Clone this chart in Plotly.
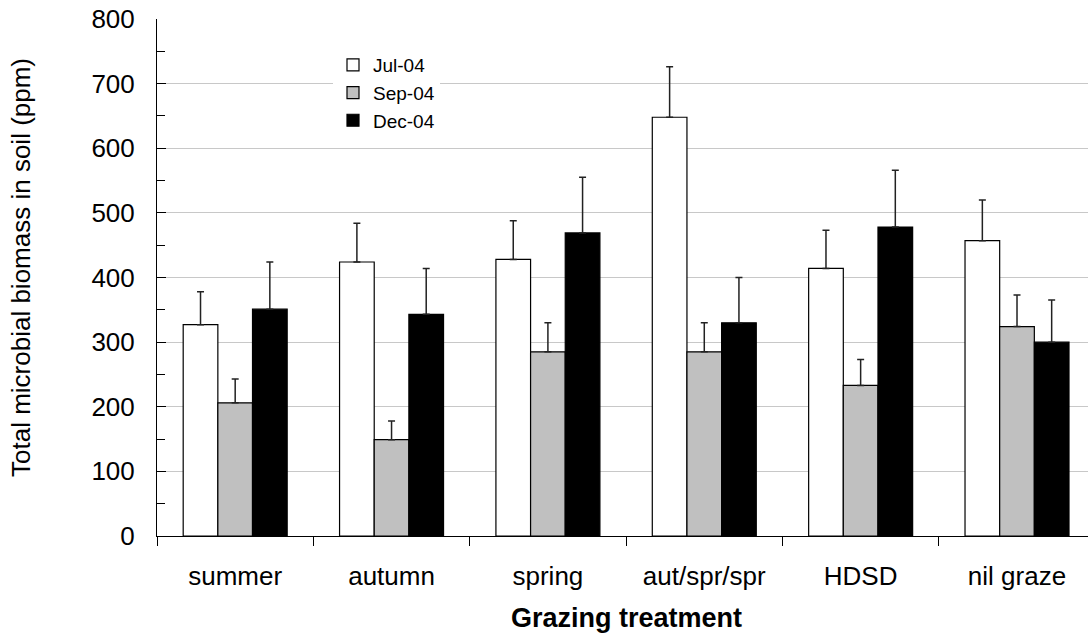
import plotly.graph_objects as go

# Grazing treatments (x categories)
categories = ["summer", "autumn", "spring", "aut/spr/spr", "HDSD", "nil graze"]

# Total microbial biomass (ppm) per sampling date
jul_04 = [327, 424, 428, 648, 414, 457]
sep_04 = [206, 149, 285, 285, 233, 324]
dec_04 = [351, 343, 469, 330, 478, 300]

# Upper error bars (ppm)
jul_04_err = [51, 60, 60, 78, 59, 63]
sep_04_err = [37, 29, 45, 45, 40, 49]
dec_04_err = [73, 71, 86, 70, 88, 65]

series_names = ["Jul-04", "Sep-04", "Dec-04"]
y_ticks = [0, 100, 200, 300, 400, 500, 600, 700, 800]

FONT = "Liberation Sans, Arial, sans-serif"

series = [
    (series_names[0], jul_04, jul_04_err, "#ffffff"),
    (series_names[1], sep_04, sep_04_err, "#c0c0c0"),
    (series_names[2], dec_04, dec_04_err, "#000000"),
]

fig = go.Figure()
for name, vals, err, fill in series:
    fig.add_trace(go.Bar(
        name=name,
        x=categories,
        y=vals,
        marker=dict(color=fill, line=dict(color="#000000", width=1.2)),
        error_y=dict(type="data", array=err, arrayminus=[0] * len(err),
                     symmetric=False, color="#222222", thickness=1.5, width=3.5),
    ))

fig.update_layout(
    width=1088,
    height=634,
    margin=dict(l=157, r=0, t=19, b=98),
    paper_bgcolor="#ffffff",
    plot_bgcolor="#ffffff",
    barmode="group",
    bargap=0.335,
    bargroupgap=0,
    font=dict(family=FONT, color="#000000", size=26),
    showlegend=True,
    legend=dict(
        x=(333 - 157) / 931, xanchor="left",
        y=(536 - 46) / 517, yanchor="top",
        bgcolor="#ffffff",
        borderwidth=0,
        font=dict(family=FONT, size=19, color="#000000"),
        itemwidth=30,
        tracegroupgap=0,
    ),
)

fig.update_xaxes(
    range=[-0.5, 5.454],
    showline=True, linecolor="#000000", linewidth=1,
    ticks="outside", tickson="boundaries", ticklen=9,
    tickcolor="#000000", tickwidth=1,
    showgrid=False,
    tickfont=dict(family=FONT, size=26, color="#000000"),
    ticklabelstandoff=17,
)

fig.update_yaxes(
    range=[0, 800],
    tickvals=y_ticks,
    showline=True, linecolor="#000000", linewidth=1,
    ticks="inside", ticklen=9, tickcolor="#000000", tickwidth=1,
    minor=dict(dtick=50, ticks="inside", ticklen=8, tickcolor="#000000",
               tickwidth=1, showgrid=False),
    showgrid=True, gridcolor="#c8c8c8", gridwidth=1,
    zeroline=False,
    tickfont=dict(family=FONT, size=26, color="#000000"),
    ticklabelstandoff=16,
)

# Axis titles
fig.add_annotation(
    text="Total microbial biomass in soil (ppm)",
    xref="paper", yref="paper",
    x=(21 - 157) / 931, y=(536 - 268) / 517,
    xanchor="center", yanchor="middle",
    textangle=-90, showarrow=False,
    font=dict(family=FONT, size=26, color="#000000"),
)
fig.add_annotation(
    text="<b>Grazing treatment</b>",
    xref="x", yref="paper",
    x=2.5, y=(536 - 618) / 517,
    xanchor="center", yanchor="middle",
    showarrow=False,
    font=dict(family=FONT, size=27, color="#000000"),
)

fig.write_html("out.html")
